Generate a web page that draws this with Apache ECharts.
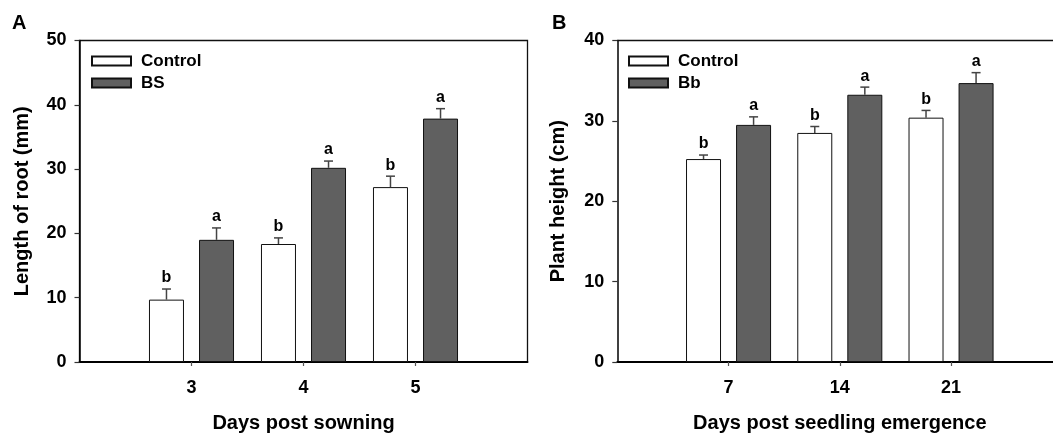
<!DOCTYPE html>
<html>
<head>
<meta charset="utf-8">
<script src="https://cdn.jsdelivr.net/npm/echarts@6/dist/echarts.min.js"></script>
<style>
html,body{margin:0;padding:0;background:#fff;}
#chart{width:1053px;height:435px;}
</style>
</head>
<body>
<div id="chart"></div>
<script>
// ---- Data ----
const daysA = ['3', '4', '5'];
const controlA = [9.7, 18.35, 27.2];
const controlAErr = [1.65, 0.95, 1.7];
const bsA = [19.0, 30.2, 37.85];
const bsAErr = [1.85, 1.05, 1.55];
const controlALetters = ['b', 'b', 'b'];
const bsALetters = ['a', 'a', 'a'];

const daysB = ['7', '14', '21'];
const controlB = [25.25, 28.5, 30.4];
const controlBErr = [0.5, 0.8, 0.9];
const bbB = [29.5, 33.25, 34.7];
const bbBErr = [1.0, 0.95, 1.3];
const controlBLetters = ['b', 'b', 'b'];
const bbBLetters = ['a', 'a', 'a'];

const yTicksA = [0, 10, 20, 30, 40, 50];
const yTicksB = [0, 10, 20, 30, 40];

// ---- Styling ----
const FONT = 'Liberation Sans, Arial, sans-serif';
const BAR_W = 35;
const GAP_RATIO = 0.43;
const OFFSET = (BAR_W + BAR_W * GAP_RATIO) / 2;
const DARK = '#606060';

function pad(arr) { return [null, ...arr, null]; }
function padCats(arr) { return ['', ...arr, '']; }

function errSeries(axisIdx, vals, errs, letters, side) {
  const data = vals.map((v, i) => [i + 1, v, errs[i]]);
  return {
    type: 'custom',
    xAxisIndex: axisIdx, yAxisIndex: axisIdx,
    z: 10,
    silent: true,
    data: data,
    renderItem: function (params, api) {
      const idx = api.value(0);
      const v = api.value(1);
      const e = api.value(2);
      const base = api.coord([idx, v]);
      const top = api.coord([idx, v + e]);
      const x = base[0] + side * OFFSET;
      return {
        type: 'group',
        children: [
          { type: 'line', shape: { x1: x, y1: base[1], x2: x, y2: top[1] }, style: { stroke: '#444', lineWidth: 1.5 } },
          { type: 'line', shape: { x1: x - 4.5, y1: top[1], x2: x + 4.5, y2: top[1] }, style: { stroke: '#444', lineWidth: 1.5 } },
          { type: 'text', style: { x: x, y: top[1] - 3, text: letters[params.dataIndex], textAlign: 'center', textVerticalAlign: 'bottom', font: 'bold 16px ' + FONT, fill: '#000' } }
        ]
      };
    }
  };
}

function barSeries(name, axisIdx, vals, fill) {
  return {
    name: name, type: 'bar', xAxisIndex: axisIdx, yAxisIndex: axisIdx,
    data: pad(vals), barWidth: BAR_W, barGap: (GAP_RATIO * 100) + '%',
    itemStyle: { color: fill, borderColor: '#111', borderWidth: 1 },
    emphasis: { disabled: true }
  };
}

function xAxis(gridIndex, cats, name) {
  return {
    type: 'category', gridIndex: gridIndex, data: padCats(cats), boundaryGap: false,
    name: name, nameLocation: 'middle', nameGap: 51,
    nameTextStyle: { fontFamily: FONT, fontWeight: 'bold', fontSize: 20, color: '#000' },
    axisLine: { lineStyle: { color: '#000', width: 1.8 } },
    axisTick: { show: true, length: 4, lineStyle: { color: '#555', width: 1.2 }, interval: function (i) { return i > 0 && i < cats.length + 1; } },
    axisLabel: { fontFamily: FONT, fontWeight: 'bold', fontSize: 18, color: '#000', margin: 17, interval: 0 },
    splitLine: { show: false }
  };
}

// top frame line for panel B (its right side runs off the page)
function topFrame(gridIndex, cats) {
  return {
    type: 'category', gridIndex: gridIndex, data: padCats(cats), boundaryGap: false, position: 'top',
    axisLine: { show: true, lineStyle: { color: '#111', width: 1.3 } },
    axisTick: { show: false }, axisLabel: { show: false }, splitLine: { show: false }
  };
}

function yAxis(gridIndex, ticks, name, gap) {
  return {
    type: 'value', gridIndex: gridIndex, min: ticks[0], max: ticks[ticks.length - 1], interval: ticks[1] - ticks[0],
    name: name, nameLocation: 'middle', nameGap: gap,
    nameTextStyle: { fontFamily: FONT, fontWeight: 'bold', fontSize: 20, color: '#000' },
    axisLine: { show: true, lineStyle: { color: '#000', width: 1.5 } },
    axisTick: { show: true, length: 5, lineStyle: { color: '#333', width: 1.2 } },
    axisLabel: { fontFamily: FONT, fontWeight: 'bold', fontSize: 18, color: '#000', margin: 13 },
    splitLine: { show: false }
  };
}

const legendText = { fontFamily: FONT, fontWeight: 'bold', fontSize: 17, color: '#000', padding: [0, 0, 0, 5] };

const option = {
  animation: false,
  backgroundColor: '#fff',
  grid: [
    { left: 79.5, top: 40.5, width: 448, height: 321.5, show: true, borderColor: '#111', borderWidth: 1.3, backgroundColor: 'transparent', outerBoundsMode: 'none', containLabel: false },
    { left: 617.3, top: 40.5, width: 445, height: 321.5, show: false, outerBoundsMode: 'none', containLabel: false }
  ],
  legend: [
    { data: ['Control', 'BS'], left: 91, top: 52.5, padding: 0, orient: 'vertical', itemWidth: 39, itemHeight: 9, itemGap: 5, textStyle: legendText, selectedMode: false, icon: 'rect' },
    { data: ['Control ', 'Bb'], left: 628, top: 52.5, padding: 0, orient: 'vertical', itemWidth: 39, itemHeight: 9, itemGap: 5, textStyle: legendText, selectedMode: false, icon: 'rect',
      formatter: function (n) { return n.trim(); } }
  ],
  xAxis: [xAxis(0, daysA, 'Days post sowning'), xAxis(1, daysB, 'Days post seedling emergence'), topFrame(1, daysB)],
  yAxis: [yAxis(0, yTicksA, 'Length of root (mm)', 47), yAxis(1, yTicksB, 'Plant height (cm)', 49)],
  graphic: [
    { type: 'text', left: 12, top: 13, style: { text: 'A', font: 'bold 20px ' + FONT, fill: '#000' } },
    { type: 'text', left: 552, top: 13, style: { text: 'B', font: 'bold 20px ' + FONT, fill: '#000' } }
  ],
  series: [
    barSeries('Control', 0, controlA, '#fff'),
    barSeries('BS', 0, bsA, DARK),
    barSeries('Control ', 1, controlB, '#fff'),
    barSeries('Bb', 1, bbB, DARK),
    errSeries(0, controlA, controlAErr, controlALetters, -1),
    errSeries(0, bsA, bsAErr, bsALetters, 1),
    errSeries(1, controlB, controlBErr, controlBLetters, -1),
    errSeries(1, bbB, bbBErr, bbBLetters, 1)
  ]
};

const chart = echarts.init(document.getElementById('chart'), null, { renderer: 'canvas' });
chart.setOption(option);
</script>
</body>
</html>
